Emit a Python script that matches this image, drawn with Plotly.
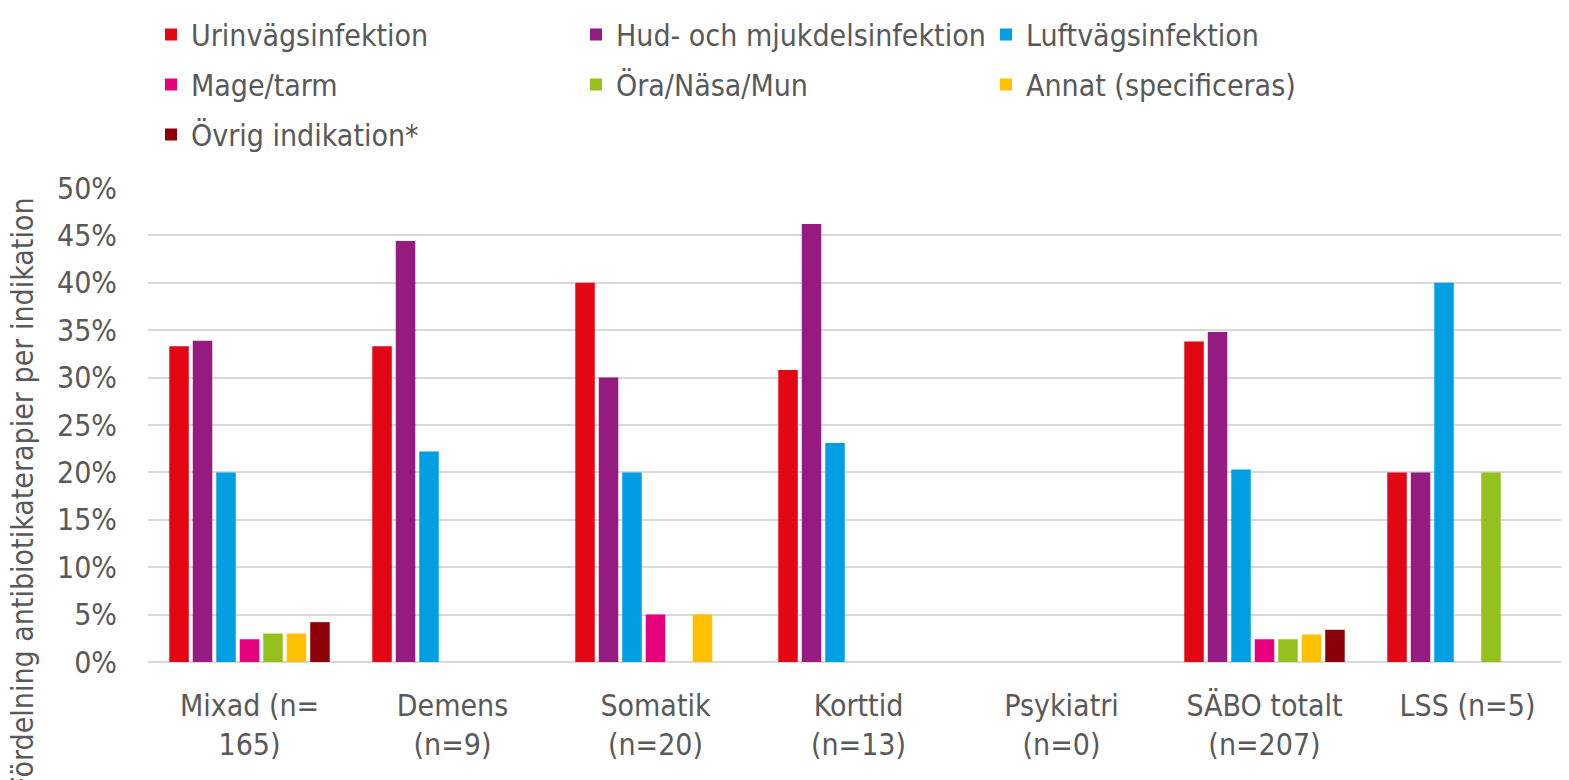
import plotly.graph_objects as go

categories = ["Mixad (n=<br>165)", "Demens<br>(n=9)", "Somatik<br>(n=20)", "Korttid<br>(n=13)",
              "Psykiatri<br>(n=0)", "SÄBO totalt<br>(n=207)", "LSS (n=5)"]

series_names = ["Urinvägsinfektion", "Hud- och mjukdelsinfektion", "Luftvägsinfektion",
                "Mage/tarm", "Öra/Näsa/Mun", "Annat (specificeras)", "Övrig indikation*"]

urin = [0.333, 0.333, 0.40, 0.308, None, 0.338, 0.20]
hud = [0.339, 0.444, 0.30, 0.462, None, 0.348, 0.20]
luft = [0.200, 0.222, 0.20, 0.231, None, 0.203, 0.40]
mage = [0.024, None, 0.05, None, None, 0.024, None]
ora = [0.030, None, None, None, None, 0.024, 0.20]
annat = [0.030, None, 0.05, None, None, 0.029, None]
ovrig = [0.042, None, None, None, None, 0.034, None]

values = [urin, hud, luft, mage, ora, annat, ovrig]
colors = ["#E30613", "#951B81", "#009FE3", "#E6007E", "#95C11F", "#FFC000", "#8B0009"]
legend_of = ["legend", "legend2", "legend3", "legend", "legend2", "legend3", "legend"]

FONT = "DejaVu Sans Condensed"
GREY = "#595959"
FS = 30

fig = go.Figure()
for name, vals, col, lg in zip(series_names, values, colors, legend_of):
    fig.add_trace(go.Bar(name=name, x=categories, y=vals, marker_color=col,
                         marker_line_width=0, legend=lg, legendgroup=name))

# page has an 8px body margin; figure coordinates below are relative to the figure
W, H = 1561, 772
L, R, T, B = 140, 0, 180, 118
PW, PH = W - L - R, H - T - B

def leg(xpx, ytop):
    return dict(x=(xpx - L) / PW, xanchor="left", y=1 + (T - ytop) / PH,
                yanchor="top", orientation="v", tracegroupgap=8,
                font=dict(family=FONT, size=FS, color=GREY), bgcolor="rgba(0,0,0,0)",
                itemclick=False)

fig.update_layout(
    width=W, height=H,
    margin=dict(l=L, r=R, t=T, b=B),
    barmode="group", bargap=0.19, bargroupgap=0.17,
    plot_bgcolor="white", paper_bgcolor="white",
    font=dict(family=FONT, size=FS, color=GREY),
    legend=leg(143, 0.5), legend2=leg(568, 0.5), legend3=leg(978, 0.5),
    xaxis=dict(showgrid=False, showline=False, ticks="", ticklabelstandoff=23,
               tickfont=dict(family=FONT, size=FS, color=GREY)),
    yaxis=dict(range=[0, 0.5], dtick=0.05, tickformat=".0%", showgrid=True,
               gridcolor="#D9D9D9", gridwidth=1.5, zeroline=True, zerolinecolor="#D9D9D9",
               zerolinewidth=2, ticklabelstandoff=30,
               tickfont=dict(family=FONT, size=FS, color=GREY)),
    annotations=[dict(text="Fördelning antibiotikaterapier per indikation", textangle=-90,
                      xref="paper", yref="paper", x=(14 - L) / PW, y=(662 - 495) / 474,
                      xanchor="center", yanchor="middle", showarrow=False,
                      font=dict(family=FONT, size=FS, color=GREY))],
)

fig.write_html("out.html")
